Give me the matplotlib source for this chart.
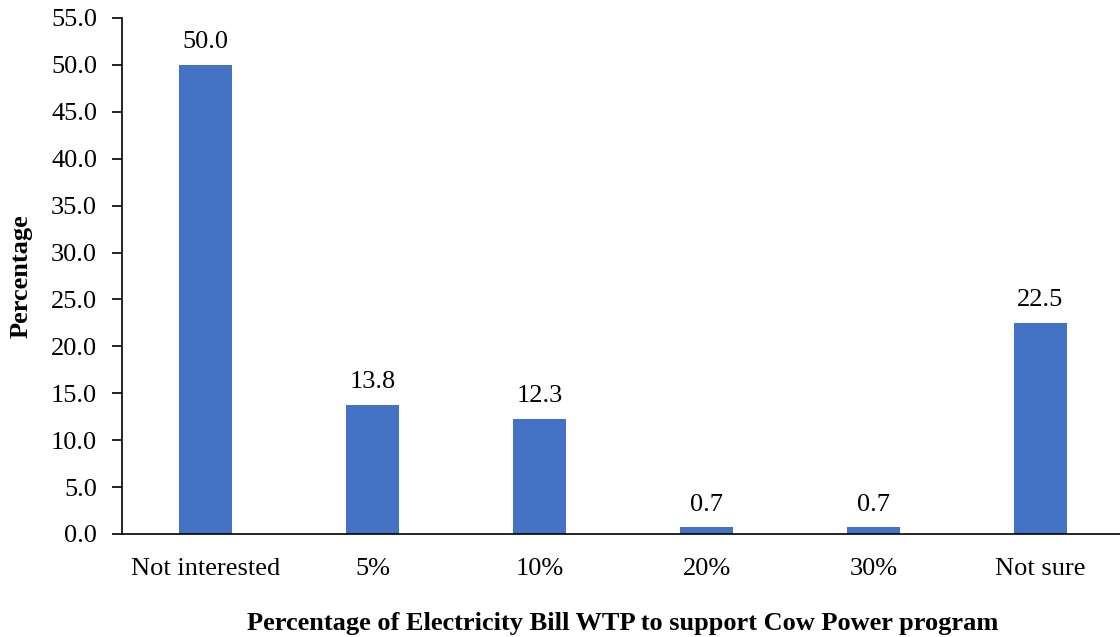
import matplotlib
matplotlib.use("Agg")
import matplotlib.pyplot as plt

categories = ["Not interested", "5%", "10%", "20%", "30%", "Not sure"]
values = [50.0, 13.8, 12.3, 0.7, 0.7, 22.5]
yticks = [0, 5, 10, 15, 20, 25, 30, 35, 40, 45, 50, 55]

plt.rcParams["font.family"] = ["Liberation Serif", "DejaVu Serif"]

fig = plt.figure(figsize=(11.2, 6.37), dpi=100)
ax = fig.add_axes([122 / 1120, 103 / 637, 1002 / 1120, 516 / 637])

x = list(range(len(categories)))
bars = ax.bar(x, values, width=0.317, color="#4472C4", zorder=2)

for xi, v in zip(x, values):
    ax.annotate(f"{v:.1f}", (xi, v), xytext=(0, 8.5), textcoords="offset points",
                ha="center", va="bottom", fontsize=19)

ax.set_xlim(-0.5, 5.5)
ax.set_ylim(0, 55)
ax.set_yticks(yticks)
ax.set_yticklabels([f"{t:.1f}" for t in yticks], fontsize=19)
ax.set_xticks(x)
ax.set_xticklabels(categories, fontsize=19)
ax.tick_params(axis="x", length=0, pad=17)
ax.tick_params(axis="y", direction="out", length=7, width=1.2, pad=11)

for side in ("top", "right"):
    ax.spines[side].set_visible(False)
for side in ("left", "bottom"):
    ax.spines[side].set_linewidth(1.2)

ax.set_xlabel("Percentage of Electricity Bill WTP to support Cow Power program",
              fontsize=19, fontweight="bold", labelpad=23)
ax.set_ylabel("Percentage", fontsize=19, fontweight="bold", labelpad=13)

fig.savefig("out.png", dpi=100)
